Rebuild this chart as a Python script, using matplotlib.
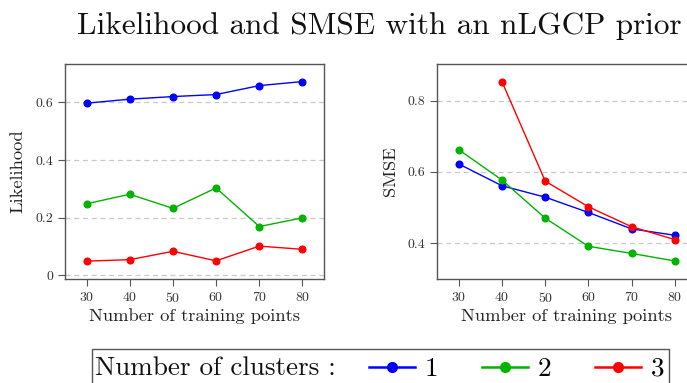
import matplotlib
matplotlib.use("Agg")
import matplotlib.pyplot as plt
from matplotlib.lines import Line2D
from matplotlib.patches import Rectangle

# Data
n_train = [30, 40, 50, 60, 70, 80]
lik_1 = [0.597, 0.611, 0.620, 0.627, 0.658, 0.672]
lik_2 = [0.248, 0.281, 0.232, 0.303, 0.169, 0.199]
lik_3 = [0.049, 0.054, 0.083, 0.050, 0.101, 0.090]

smse_1 = [0.622, 0.561, 0.529, 0.486, 0.440, 0.422]
smse_2 = [0.662, 0.577, 0.470, 0.391, 0.371, 0.350]
n_train_3 = [40, 50, 60, 70, 80]
smse_3 = [0.853, 0.574, 0.502, 0.446, 0.410]

cluster_labels = ["1", "2", "3"]
colors = ["#0000FF", "#00B300", "#FF0000"]

plt.rcParams["font.family"] = ["cmr10", "DejaVu Serif"]
plt.rcParams["axes.formatter.use_mathtext"] = True
plt.rcParams["mathtext.fontset"] = "cm"

W, H = 687, 383
fig = plt.figure(figsize=(W / 100, H / 100), dpi=100)


def px_axes(x0, y0, x1, y1):
    return fig.add_axes([x0 / W, 1 - y1 / H, (x1 - x0) / W, (y1 - y0) / H])


ax1 = px_axes(65, 64, 324, 278.7)
ax2 = px_axes(437.3, 64, 696.3, 278.7)

spine_col = "#555555"
grid_col = "#c8c8c8"


def style(ax, yticks, ylim, ylabel):
    ax.set_xlim(25, 85)
    ax.set_ylim(*ylim)
    ax.set_xticks(n_train)
    ax.set_yticks(yticks)
    ax.set_yticklabels(["0" if t == 0 else f"{t:.1f}" for t in yticks])
    for s in ax.spines.values():
        s.set_color(spine_col)
        s.set_linewidth(1.0)
    ax.tick_params(direction="out", length=5, width=0.8, color=spine_col,
                   labelcolor="#333333", labelsize=10, pad=3.5)
    ax.grid(axis="y", color=grid_col, linestyle=(0, (4, 3)), linewidth=0.9)
    ax.set_axisbelow(True)
    ax.set_xlabel("Number of training points", fontsize=13.3, color="#222222",
                  labelpad=3)
    ax.set_ylabel(ylabel, fontsize=13.3, color="#222222", labelpad=7)


ms = 4.8
lik = [lik_1, lik_2, lik_3]
for vals, c in zip(lik, colors):
    ax1.plot(n_train, vals, color=c, lw=1.0, marker="o", ms=ms, mec=c,
             clip_on=False, zorder=3)

ax2.plot(n_train, smse_1, color=colors[0], lw=1.0, marker="o", ms=ms, clip_on=False, zorder=3)
ax2.plot(n_train, smse_2, color=colors[1], lw=1.0, marker="o", ms=ms, clip_on=False, zorder=3)
ax2.plot(n_train_3, smse_3, color=colors[2], lw=1.0, marker="o", ms=ms, clip_on=False, zorder=3)

style(ax1, [0, 0.2, 0.4, 0.6], (-0.012, 0.733), "Likelihood")
style(ax2, [0.4, 0.6, 0.8], (0.30, 0.903), "SMSE")

fig.text(379.5 / W, 1 - 34.5 / H, "Likelihood and SMSE with an nLGCP prior",
         fontsize=22.5, ha="center", va="baseline", color="#111111")

# Legend box
fig.add_artist(Rectangle((92.3 / W, 1 - 395 / H), (669.3 - 92.3) / W, (395 - 349.3) / H,
                         transform=fig.transFigure, fill=False,
                         edgecolor=spine_col, linewidth=1.0))
fig.text(95 / W, 1 - 375 / H, "Number of clusters :", fontsize=19.5,
         ha="left", va="baseline", color="#111111")

handles = [Line2D([], [], color=c, lw=1.8, marker="o", ms=7) for c in colors]
fig.legend(handles, cluster_labels, loc="center left",
           bbox_to_anchor=(369 / W, 1 - 369 / H), ncol=3, frameon=False,
           fontsize=19.5, handlelength=1.7, handletextpad=0.37,
           columnspacing=1.6, borderpad=0, borderaxespad=0)

fig.savefig("out.png", dpi=100)
